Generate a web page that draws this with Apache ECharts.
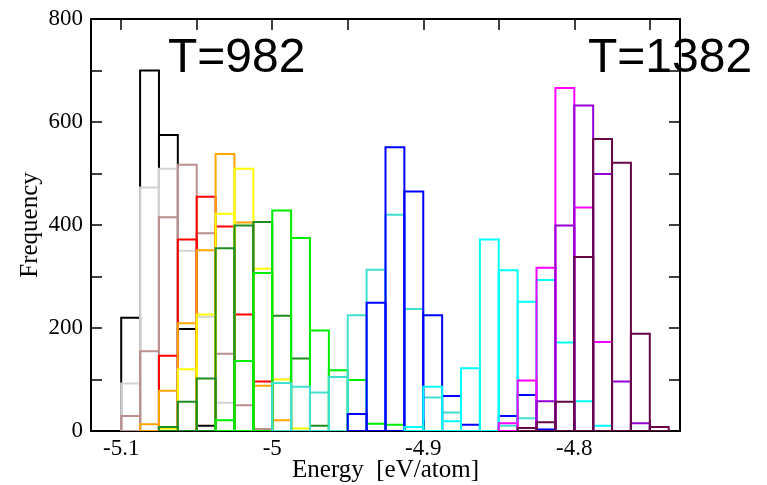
<!DOCTYPE html>
<html><head><meta charset="utf-8">
<script src="https://cdn.jsdelivr.net/npm/echarts@6/dist/echarts.min.js"></script>
<style>html,body{margin:0;padding:0;background:#fff}#c{width:767px;height:485px}</style>
</head><body><div id="c"></div>
<script>
// Histogram bins: left edge of first bin and bin width (eV/atom)
const binStart = -5.1;
const binWidth = 0.0125;

// Axis ticks and labels
const xTickValues = [-5.1, -5.05, -5, -4.95, -4.9, -4.85, -4.8, -4.75];
const xLabelValues = [-5.1, -5, -4.9, -4.8];
const yLabelValues = [0, 200, 400, 600, 800];
const annotations = ['T=982', 'T=1382'];

// Series colours (low T -> high T)
const seriesColors = ['#000000', '#d3d3d3', '#bc8f8f', '#ff0000', '#ffa500', '#ffff00', '#1e8c1e',
  '#00ee00', '#40e0d0', '#0000ff', '#00ffff', '#ff00ff', '#9400d3', '#670748'];

// Frequencies per bin for each temperature
const sBlack   = [220,700,575,198,10,0,0,0,0,0,0,0,0,0,0,0,0,0,0,0,0,0,0,0,0,0,0,0,0];
const sGray    = [92,473,509,350,222,55,0,0,0,0,0,0,0,0,0,0,0,0,0,0,0,0,0,0,0,0,0,0,0];
const sRosy    = [29,155,415,517,384,150,50,4,0,0,0,0,0,0,0,0,0,0,0,0,0,0,0,0,0,0,0,0,0];
const sRed     = [0,0,146,372,455,397,226,96,0,0,0,0,0,0,0,0,0,0,0,0,0,0,0,0,0,0,0,0,0];
const sOrange  = [0,13,78,209,351,538,405,88,21,0,0,0,0,0,0,0,0,0,0,0,0,0,0,0,0,0,0,0,0];
const sYellow  = [0,0,5,120,226,422,509,315,100,5,0,0,0,0,0,0,0,0,0,0,0,0,0,0,0,0,0,0,0];
const sDkGreen = [0,0,8,57,102,355,399,406,224,141,10,0,0,0,0,0,0,0,0,0,0,0,0,0,0,0,0,0,0];
const sGreen   = [0,0,0,0,0,21,136,307,428,375,195,118,99,14,12,0,0,0,0,0,0,0,0,0,0,0,0,0,0];
const sTurq    = [0,0,0,0,0,0,0,0,93,86,75,105,225,313,420,237,65,36,0,0,10,25,0,0,0,0,0,0,0];
const sBlue    = [0,0,0,0,0,0,0,0,0,0,0,0,33,249,551,465,225,68,12,0,29,70,3,0,0,0,0,0,0];
const sCyan    = [0,0,0,0,0,0,0,0,0,0,0,0,0,0,0,8,86,19,122,372,312,251,293,172,58,10,0,0,0];
const sMagenta = [0,0,0,0,0,0,0,0,0,0,0,0,0,0,0,0,0,0,0,0,15,98,317,666,434,173,0,0,0];
const sViolet  = [0,0,0,0,0,0,0,0,0,0,0,0,0,0,0,0,0,0,0,0,0,0,58,399,632,499,96,15,0];
const sMaroon  = [0,0,0,0,0,0,0,0,0,0,0,0,0,0,0,0,0,0,0,0,0,6,17,57,338,567,521,189,8];

const allSeries = [sBlack, sGray, sRosy, sRed, sOrange, sYellow, sDkGreen, sGreen, sTurq,
  sBlue, sCyan, sMagenta, sViolet, sMaroon];

const chart = echarts.init(document.getElementById('c'), null, {renderer: 'canvas'});

function makeSeries(vals, color, idx) {
  const data = [];
  vals.forEach((v, k) => {
    if (v > 0) data.push([binStart + k * binWidth, binStart + (k + 1) * binWidth, v]);
  });
  return {
    type: 'custom',
    name: 's' + idx,
    xAxisIndex: 0, yAxisIndex: 0,
    z: 3 + idx,
    clip: true,
    data: data,
    renderItem: function (params, api) {
      const p0 = api.coord([api.value(0), api.value(2)]);
      const p1 = api.coord([api.value(1), 0]);
      return {
        type: 'rect',
        shape: {x: p0[0], y: p0[1], width: p1[0] - p0[0], height: p1[1] - p0[1]},
        style: {fill: null, stroke: color, lineWidth: 2}
      };
    }
  };
}

const serif = 'Liberation Serif, Times New Roman, serif';
const tickStyle = {inside: true, length: 11, lineStyle: {color: '#000', width: 1.5}};
const lineStyle = {show: true, onZero: false, lineStyle: {color: '#000', width: 2}};

const option = {
  backgroundColor: '#fff',
  animation: false,
  grid: {left: 91, right: 87, top: 19, bottom: 54, containLabel: false, outerBoundsMode: 'none'},
  xAxis: [{
    type: 'value', position: 'bottom', min: -5.12, max: -4.73,
    axisLine: lineStyle,
    axisTick: Object.assign({customValues: xTickValues}, tickStyle),
    axisLabel: {customValues: xLabelValues, formatter: v => String(v), color: '#000',
      fontFamily: serif, fontSize: 23, margin: 6},
    splitLine: {show: false},
    name: 'Energy  [eV/atom]', nameLocation: 'middle', nameGap: 27, nameMoveOverlap: false,
    nameTextStyle: {fontFamily: serif, fontSize: 25, color: '#000'}
  }, {
    type: 'value', position: 'top', min: -5.12, max: -4.73,
    axisLine: lineStyle,
    axisTick: Object.assign({customValues: xTickValues}, tickStyle),
    axisLabel: {show: false}, splitLine: {show: false}
  }],
  yAxis: [{
    type: 'value', position: 'left', min: 0, max: 800, interval: 100,
    axisLine: lineStyle,
    axisTick: tickStyle,
    axisLabel: {customValues: yLabelValues, color: '#000', fontFamily: serif, fontSize: 23, margin: 8},
    splitLine: {show: false},
    name: 'Frequency', nameLocation: 'middle', nameGap: 48, nameMoveOverlap: false,
    nameTextStyle: {fontFamily: serif, fontSize: 25, color: '#000'}
  }, {
    type: 'value', position: 'right', min: 0, max: 800, interval: 100,
    axisLine: lineStyle,
    axisTick: tickStyle,
    axisLabel: {show: false}, splitLine: {show: false}
  }],
  graphic: [
    {type: 'text', left: 168, top: 35, z: 100,
      style: {text: annotations[0], font: '48px "Liberation Sans", Arial, sans-serif', fill: '#000'}},
    {type: 'text', left: 588, top: 35, z: 100,
      style: {text: annotations[1], font: '48px "Liberation Sans", Arial, sans-serif', fill: '#000'}}
  ],
  series: allSeries.map((s, i) => makeSeries(s, seriesColors[i], i))
};
chart.setOption(option);
</script>
</body></html>
